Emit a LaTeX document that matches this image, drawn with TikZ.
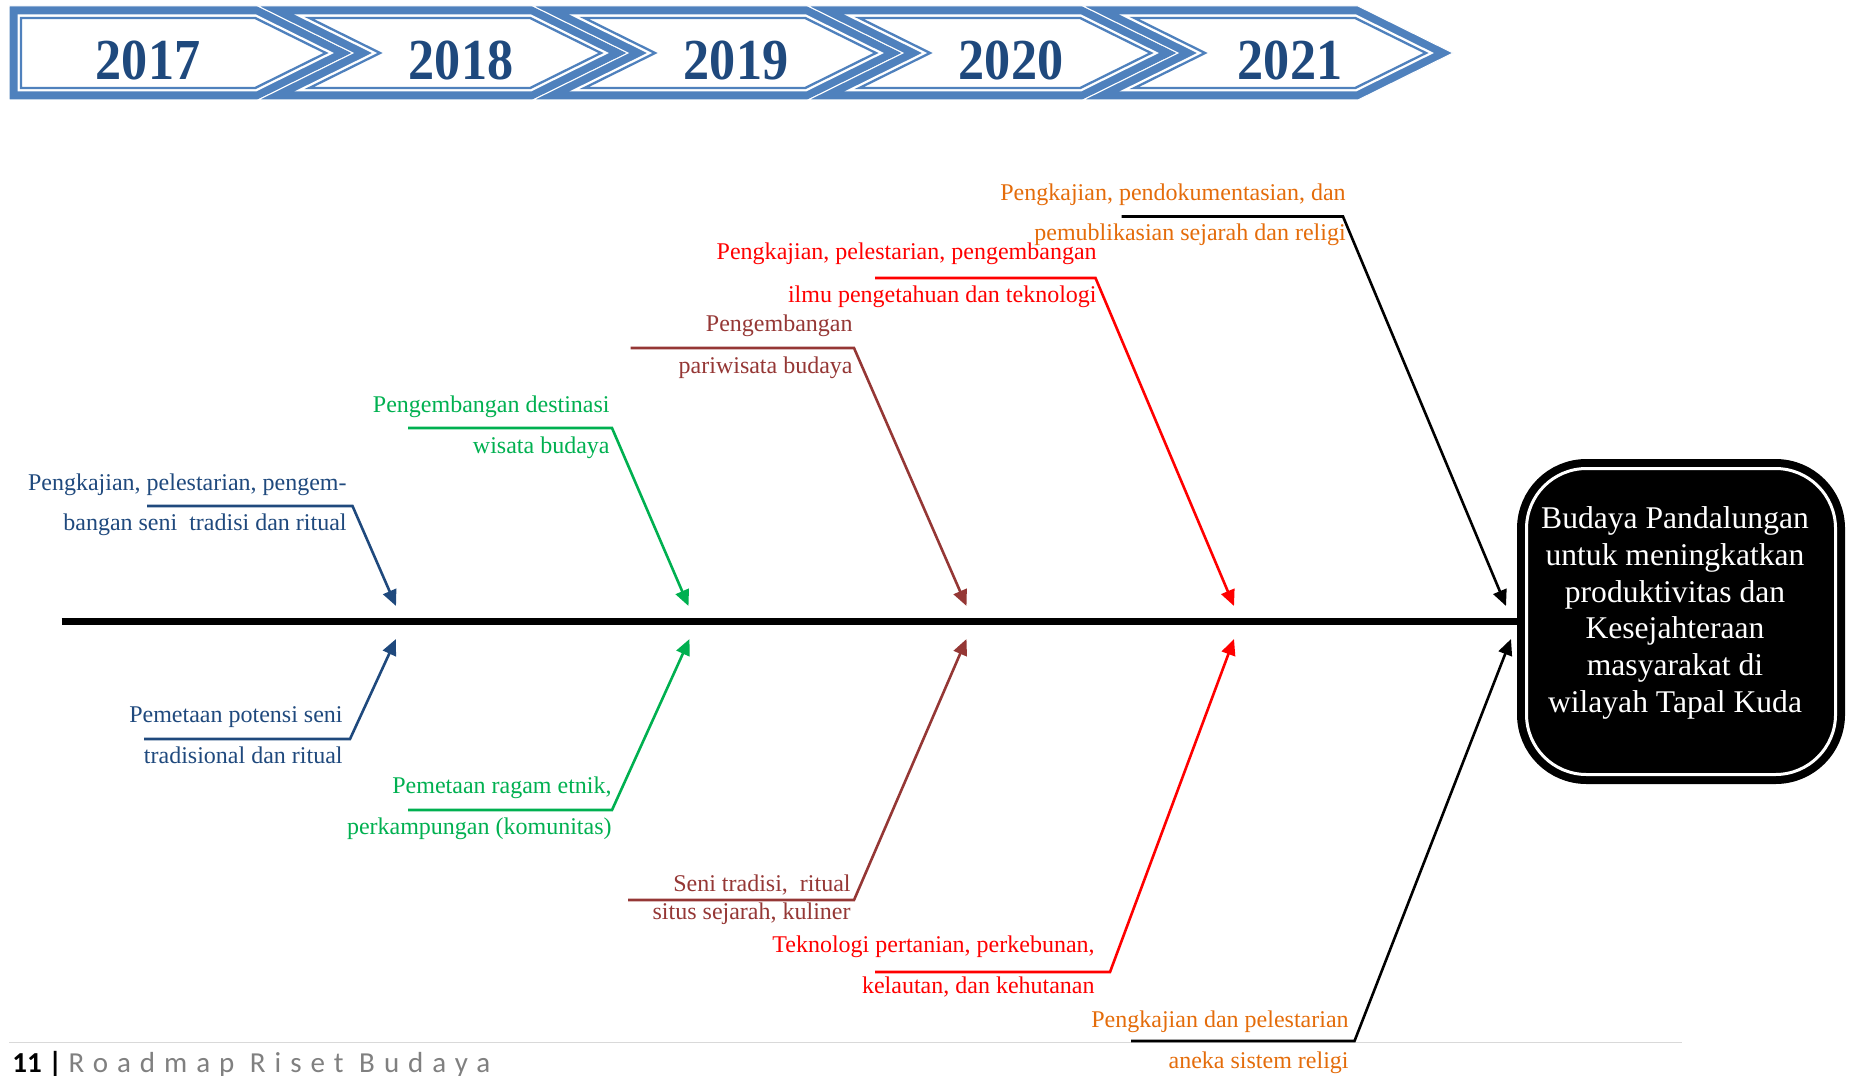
\documentclass[tikz,border=0pt]{standalone}
\usepackage{fontspec}
\usepackage{graphicx}
\setmainfont{Liberation Serif}
\newfontfamily\footfont{Carlito}
\newfontfamily\footspaced{Carlito}[LetterSpace=31]
\usetikzlibrary{arrows.meta,calc}
\definecolor{hblue}{RGB}{79,129,189}
\definecolor{ydark}{RGB}{31,73,125}
\definecolor{cblue}{RGB}{31,73,125}
\definecolor{cgreen}{RGB}{0,176,80}
\definecolor{cbrown}{RGB}{149,55,53}
\definecolor{cred}{RGB}{255,0,0}
\definecolor{corange}{RGB}{228,108,10}
\definecolor{footgray}{RGB}{128,128,128}
\definecolor{footline}{RGB}{217,217,217}
\newcommand\chevpoly[5]{%
  \pgfmathsetmacro\cya{6+#3}%
  \pgfmathsetmacro\cyb{100-#3}%
  \pgfmathsetmacro\cxa{#4==1 ? #1+4.277*#3 : #1+#3}%
  \pgfmathsetmacro\cxn{#4==1 ? #1+95+2.255*#3 : #1+#3}%
  \pgfmathsetmacro\cxb{#2-0.235*#3}%
  \pgfmathsetmacro\cxt{#2+95-2.255*#3}%
  \path[#5] (\cxa,\cya) -- (\cxb,\cya) -- (\cxt,53) -- (\cxb,\cyb) -- (\cxa,\cyb) -- (\cxn,53) -- cycle;%
}
\newcommand\yearchev[3]{%
  \chevpoly{#1}{#2}{0}{#3}{fill=hblue,draw=white,line width=0.5pt,line join=miter}%
  \chevpoly{#1}{#2}{8.5}{#3}{fill=white,line join=miter}%
  \chevpoly{#1}{#2}{12}{#3}{draw=hblue,line width=1.15pt,line join=miter}%
}
\tikzset{
  lbl/.style={anchor=base east, inner sep=0pt, font=\fontsize{12pt}{14pt}\selectfont},
  br/.style={line width=1.3pt, line join=miter, -{Triangle[length=8pt,width=7pt]}},
  yeartxt/.style={anchor=base, inner sep=0pt, text=ydark, font=\fontsize{29pt}{32pt}\selectfont\bfseries},
  goalbox/.style={fill=black, draw=black, double=white, double distance=1.5pt, line width=4pt,
    rounded corners=30pt, minimum width=154.5pt, minimum height=153pt, inner sep=0pt},
  goaltxt/.style={text=white, align=center, inner sep=0pt, font=\fontsize{15.8pt}{18.35pt}\selectfont},
  spine/.style={line width=3.5pt, black},
}
\begin{document}
\begin{tikzpicture}[x={(0.5pt,0)}, y={(0,-0.5pt)}]
\useasboundingbox (0,0) rectangle (1855,1075);
% header
\yearchev{9}{258}{0}
\yearchev{258}{533}{1}
\yearchev{533}{808}{1}
\yearchev{808}{1083}{1}
\yearchev{1083}{1358}{1}
\node[yeartxt] (y17) at (148,80) {\scalebox{0.9}[1]{2017}};
\node[yeartxt] (y18) at (461,80) {\scalebox{0.9}[1]{2018}};
\node[yeartxt] (y19) at (736,80) {\scalebox{0.9}[1]{2019}};
\node[yeartxt] (y20) at (1011,80) {\scalebox{0.9}[1]{2020}};
\node[yeartxt] (y21) at (1290,80) {\scalebox{0.9}[1]{2021}};
% goal
\node[goalbox] (goal) at (1681,621.5) {};
\node[goaltxt] (goaltext) at (1675,613) {Budaya Pandalungan\\untuk meningkatkan\\produktivitas dan\\Kesejahteraan\\masyarakat di\\wilayah Tapal Kuda};
% spine
\coordinate (spineL) at (61.5,621);
\draw[spine] (spineL) -- (spineL -| goal.west);
% branch coordinates
\coordinate (b1ul) at (147,506);   \coordinate (b1uc) at (352.5,506); \coordinate (b1ut) at (396,606);
\coordinate (b1dl) at (144,739);   \coordinate (b1dc) at (350,739);   \coordinate (b1dt) at (396,639);
\coordinate (b2ul) at (408,428);   \coordinate (b2uc) at (612,428);   \coordinate (b2ut) at (688.5,606);
\coordinate (b2dl) at (408,810);   \coordinate (b2dc) at (612,810);   \coordinate (b2dt) at (689.5,639);
\coordinate (b3ul) at (630.5,348); \coordinate (b3uc) at (854,348);   \coordinate (b3ut) at (966.5,606);
\coordinate (b3dl) at (628,900);   \coordinate (b3dc) at (854,900);   \coordinate (b3dt) at (966.5,639);
\coordinate (b4ul) at (875,278);   \coordinate (b4uc) at (1095.5,278);\coordinate (b4ut) at (1234,606);
\coordinate (b4dl) at (875,972);   \coordinate (b4dc) at (1110,972);  \coordinate (b4dt) at (1234,639);
\coordinate (b5ul) at (1121.5,216.5); \coordinate (b5uc) at (1343,216.5); \coordinate (b5ut) at (1506,606);
\coordinate (b5dl) at (1131,1041); \coordinate (b5dc) at (1354.5,1041); \coordinate (b5dt) at (1511,639);
% footer
\coordinate (fl) at (9,1042.5); \coordinate (fr) at (1682,1042.5);
\draw[footline, line width=0.8pt] (fl) -- (fr);
\node[anchor=base west, inner sep=0pt] (footer) at (12,1072) {\footfont\fontsize{14.5pt}{16pt}\selectfont\textbf{11 |} \color{footgray}\footspaced Roadmap Riset Budaya};
% branches
\draw[br, cblue] (b1ul) -- (b1uc) -- (b1ut);
\draw[br, cblue] (b1dl) -- (b1dc) -- (b1dt);
\draw[br, cgreen] (b2ul) -- (b2uc) -- (b2ut);
\draw[br, cgreen] (b2dl) -- (b2dc) -- (b2dt);
\draw[br, cbrown] (b3ul) -- (b3uc) -- (b3ut);
\draw[br, cbrown] (b3dl) -- (b3dc) -- (b3dt);
\draw[br, cred] (b4ul) -- (b4uc) -- (b4ut);
\draw[br, cred] (b4dl) -- (b4dc) -- (b4dt);
\draw[br, black] (b5ul) -- (b5uc) -- (b5ut);
\draw[br, black] (b5dl) -- (b5dc) -- (b5dt);
% labels
\node[lbl, text=cblue] (t1ua) at (347,490) {Pengkajian, pelestarian, pengem-};
\node[lbl, text=cblue] (t1ub) at (347,530) {bangan seni\ \ tradisi dan ritual};
\node[lbl, text=cblue] (t1da) at (343,722) {Pemetaan potensi seni};
\node[lbl, text=cblue] (t1db) at (343,763) {tradisional dan ritual};
\node[lbl, text=cgreen] (t2ua) at (610,412) {Pengembangan destinasi};
\node[lbl, text=cgreen] (t2ub) at (610,453) {wisata budaya};
\node[lbl, text=cgreen] (t2da) at (612,793) {Pemetaan ragam etnik,};
\node[lbl, text=cgreen] (t2db) at (612,834) {perkampungan (komunitas)};
\node[lbl, text=cbrown] (t3ua) at (853,331) {Pengembangan};
\node[lbl, text=cbrown] (t3ub) at (853,373) {pariwisata budaya};
\node[lbl, text=cbrown] (t3da) at (851,891) {Seni tradisi,\ \ ritual};
\node[lbl, text=cbrown] (t3db) at (851,919) {situs sejarah, kuliner};
\node[lbl, text=cred] (t4ua) at (1097,259) {Pengkajian, pelestarian, pengembangan};
\node[lbl, text=cred] (t4ub) at (1097,302) {ilmu pengetahuan dan teknologi};
\node[lbl, text=cred] (t4da) at (1095,952) {Teknologi pertanian, perkebunan,};
\node[lbl, text=cred] (t4db) at (1095,993) {kelautan, dan kehutanan};
\node[lbl, text=corange] (t5ua) at (1346,200) {Pengkajian, pendokumentasian, dan};
\node[lbl, text=corange] (t5ub) at (1346,241) {pemublikasian sejarah dan religi};
\node[lbl, text=corange] (t5da) at (1349,1027) {Pengkajian dan pelestarian};
\node[lbl, text=corange] (t5db) at (1349,1068) {aneka sistem religi};
\end{tikzpicture}
\end{document}
